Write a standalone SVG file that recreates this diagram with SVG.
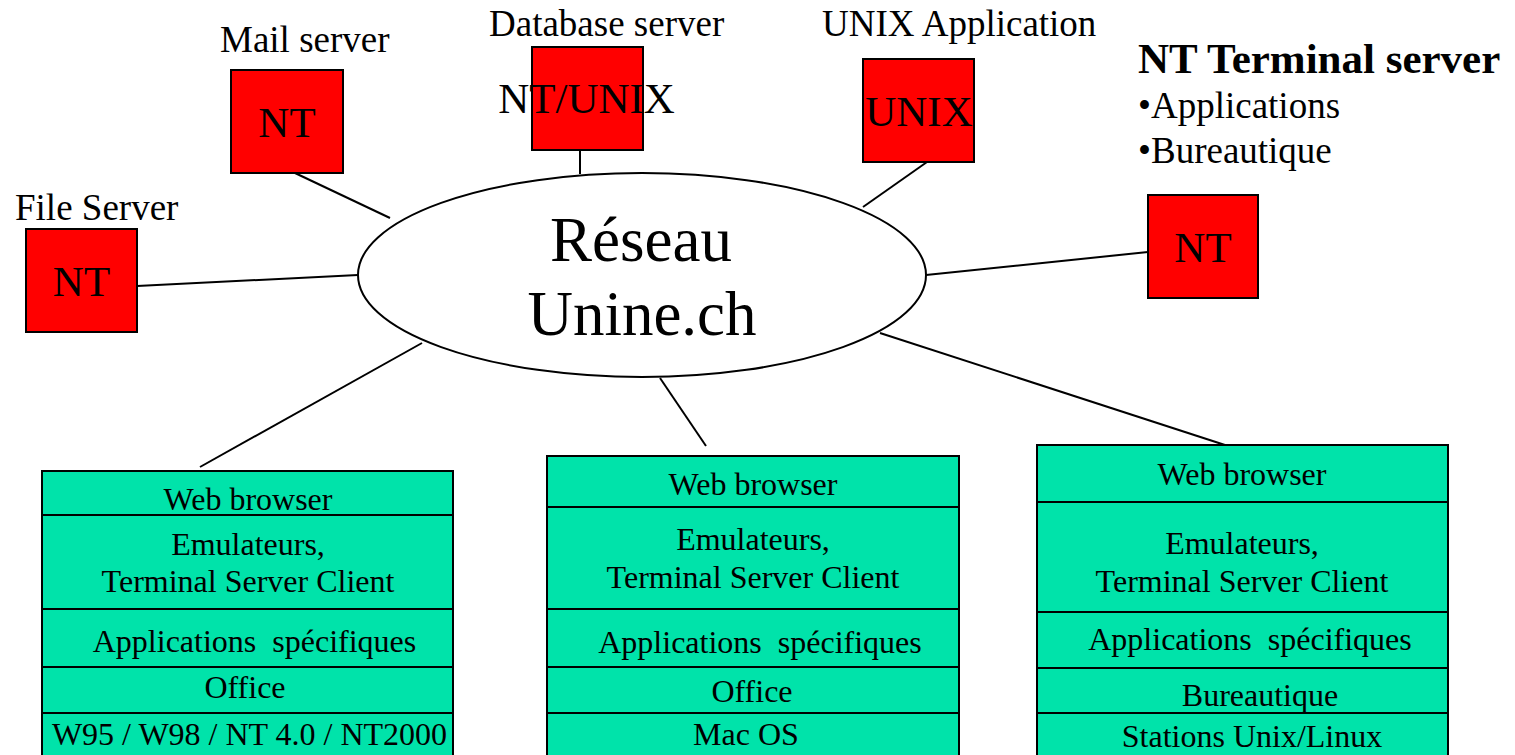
<svg xmlns="http://www.w3.org/2000/svg" width="1515" height="755" viewBox="0 0 1515 755">
<style>
text{font-family:"Liberation Serif","Times New Roman",serif;fill:#000}
.srv{fill:#ff0000;stroke:#000;stroke-width:2}
.lay{fill:#00e3aa;stroke:#000;stroke-width:2}
.lbl{font-size:37px}
.os{font-size:43px;text-anchor:middle}
.st{font-size:32px;text-anchor:middle;white-space:pre}
.con line{stroke:#000;stroke-width:2}
</style>
<rect width="1515" height="755" fill="#fff"/>
<g id="connectors" class="con">
<line x1="137" y1="286" x2="358" y2="275"/>
<line x1="295" y1="173" x2="390" y2="218"/>
<line x1="580" y1="150" x2="580" y2="174"/>
<line x1="927" y1="162" x2="863" y2="207"/>
<line x1="926" y1="275" x2="1148" y2="252"/>
<line x1="422" y1="343" x2="200" y2="467"/>
<line x1="660" y1="378" x2="706" y2="446"/>
<line x1="880" y1="333" x2="1225" y2="445"/>
</g>
<g id="network">
<ellipse cx="642" cy="275" rx="284" ry="102" fill="#fff" stroke="#000" stroke-width="2"/>
<text x="641" y="261" font-size="63" text-anchor="middle">Réseau</text>
<text x="642" y="335" font-size="63" text-anchor="middle">Unine.ch</text>
</g>
<g id="file-server">
<text class="lbl" x="15" y="220">File Server</text>
<rect class="srv" x="26" y="229" width="111" height="103"/>
<text class="os" x="81.5" y="296">NT</text>
</g>
<g id="mail-server">
<text class="lbl" x="220" y="52">Mail server</text>
<rect class="srv" x="231" y="70" width="112" height="103"/>
<text class="os" x="287" y="137">NT</text>
</g>
<g id="database-server">
<text class="lbl" x="489" y="36">Database server</text>
<rect class="srv" x="532" y="47" width="111" height="103"/>
<text class="os" x="586.5" y="113">NT/UNIX</text>
</g>
<g id="unix-application">
<text class="lbl" x="822" y="36">UNIX Application</text>
<rect class="srv" x="863" y="59" width="111" height="103"/>
<text class="os" x="919" y="126">UNIX</text>
</g>
<g id="nt-terminal-server">
<text x="1138" y="73" font-size="43" font-weight="bold">NT Terminal server</text>
<text class="lbl" x="1138" y="118">•Applications</text>
<text class="lbl" x="1138" y="163">•Bureautique</text>
<rect class="srv" x="1148" y="195" width="110" height="103"/>
<text class="os" x="1203" y="262">NT</text>
</g>
<g id="client-windows">
<rect class="lay" x="42" y="471" width="411" height="44"/>
<rect class="lay" x="42" y="515" width="411" height="94"/>
<rect class="lay" x="42" y="609" width="411" height="58"/>
<rect class="lay" x="42" y="667" width="411" height="46"/>
<rect class="lay" x="42" y="713" width="411" height="50"/>
<text class="st" x="248" y="510">Web browser</text>
<text class="st" x="248" y="555">Emulateurs,</text>
<text class="st" x="248" y="592">Terminal Server Client</text>
<text class="st" x="254.5" y="652">Applications  spécifiques</text>
<text class="st" x="245" y="698">Office</text>
<text class="st" x="249.5" y="745">W95 / W98 / NT 4.0 / NT2000</text>
</g>
<g id="client-mac">
<rect class="lay" x="547" y="456" width="412" height="51"/>
<rect class="lay" x="547" y="507" width="412" height="102"/>
<rect class="lay" x="547" y="609" width="412" height="58"/>
<rect class="lay" x="547" y="667" width="412" height="46"/>
<rect class="lay" x="547" y="713" width="412" height="50"/>
<text class="st" x="753" y="495">Web browser</text>
<text class="st" x="753" y="550">Emulateurs,</text>
<text class="st" x="753" y="588">Terminal Server Client</text>
<text class="st" x="760" y="653">Applications  spécifiques</text>
<text class="st" x="752" y="702">Office</text>
<text class="st" x="746" y="745">Mac OS</text>
</g>
<g id="client-unix">
<rect class="lay" x="1037" y="445" width="411" height="57"/>
<rect class="lay" x="1037" y="502" width="411" height="110"/>
<rect class="lay" x="1037" y="612" width="411" height="56"/>
<rect class="lay" x="1037" y="668" width="411" height="45"/>
<rect class="lay" x="1037" y="713" width="411" height="50"/>
<text class="st" x="1242" y="485">Web browser</text>
<text class="st" x="1242" y="554">Emulateurs,</text>
<text class="st" x="1242" y="592">Terminal Server Client</text>
<text class="st" x="1250" y="650">Applications  spécifiques</text>
<text class="st" x="1260" y="706">Bureautique</text>
<text class="st" x="1252" y="747">Stations Unix/Linux</text>
</g>
</svg>
